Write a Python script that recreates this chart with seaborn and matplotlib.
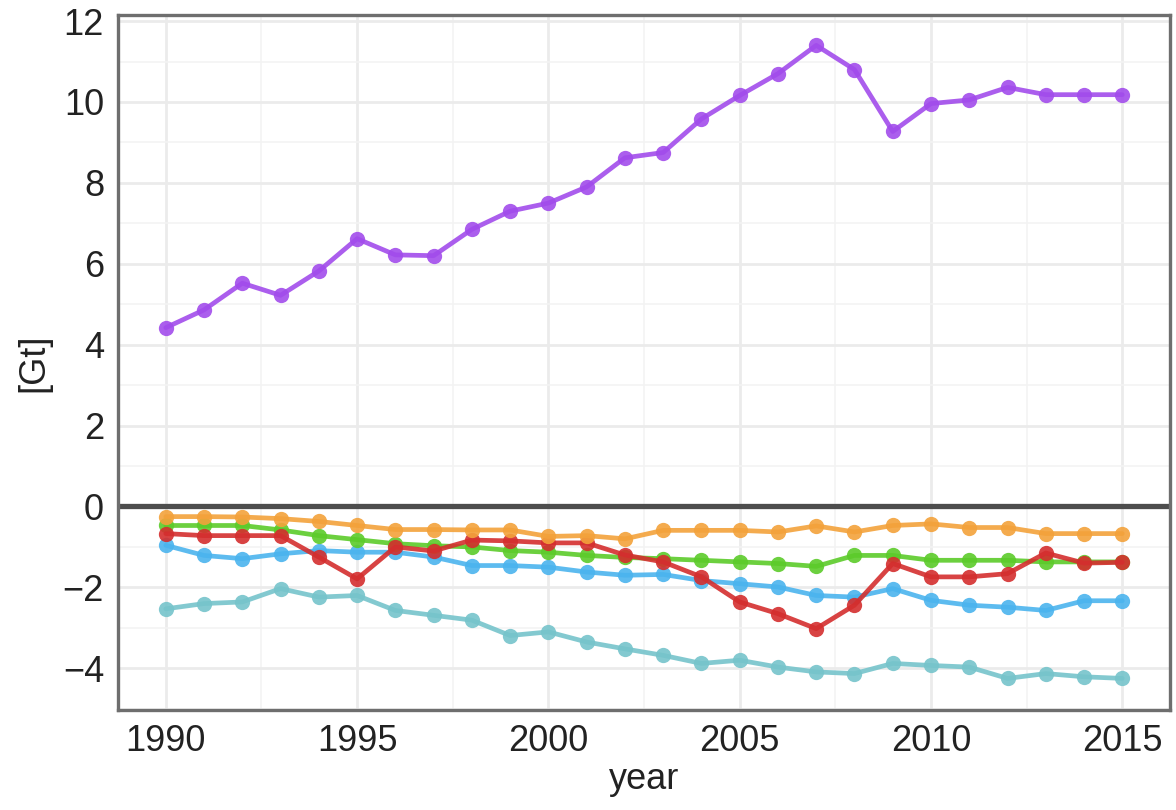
import matplotlib; matplotlib.use('Agg')
import matplotlib.pyplot as plt
from matplotlib.ticker import MultipleLocator
import numpy as np
import pandas as pd
import seaborn as sns

# ── Data ─────────────────────────────────────────────────────────
years = list(range(1990, 2016))

purple = [4.42, 4.86, 5.52, 5.22, 5.82, 6.62, 6.22, 6.2, 6.85, 7.3,
          7.5, 7.9, 8.62, 8.75, 9.58, 10.16, 10.7, 11.4, 10.8, 9.27,
          9.96, 10.05, 10.36, 10.18, 10.18, 10.18]
orange = [-0.25, -0.25, -0.26, -0.3, -0.37, -0.47, -0.57, -0.57, -0.58, -0.58,
          -0.74, -0.72, -0.8, -0.59, -0.59, -0.59, -0.63, -0.48, -0.63, -0.47,
          -0.43, -0.52, -0.52, -0.67, -0.67, -0.67]
green = [-0.47, -0.47, -0.47, -0.58, -0.72, -0.82, -0.92, -0.97, -1.0, -1.09,
         -1.13, -1.21, -1.26, -1.29, -1.33, -1.37, -1.41, -1.48, -1.21, -1.21,
         -1.33, -1.33, -1.33, -1.37, -1.37, -1.37]
red = [-0.67, -0.72, -0.72, -0.72, -1.25, -1.79, -1.0, -1.1, -0.83, -0.85,
       -0.9, -0.9, -1.2, -1.37, -1.74, -2.36, -2.65, -3.02, -2.44, -1.41,
       -1.74, -1.74, -1.66, -1.15, -1.4, -1.38]
blue = [-0.96, -1.21, -1.29, -1.17, -1.09, -1.13, -1.13, -1.25, -1.46, -1.46,
        -1.5, -1.62, -1.7, -1.68, -1.83, -1.91, -1.99, -2.2, -2.24, -2.03,
        -2.32, -2.44, -2.49, -2.57, -2.33, -2.33]
teal = [-2.53, -2.4, -2.36, -2.03, -2.24, -2.2, -2.57, -2.69, -2.81, -3.19,
        -3.1, -3.35, -3.52, -3.68, -3.88, -3.8, -3.97, -4.09, -4.13, -3.88,
        -3.93, -3.97, -4.25, -4.13, -4.21, -4.25]

series = {'s1': purple, 's2': teal, 's3': blue, 's4': green, 's5': red, 's6': orange}
colors = ['#A24CEB', '#76C4CB', '#4BB4EE', '#5CCB2A', '#D42E2E', '#F3A23B']

df = pd.DataFrame([(y, name, v) for name, vals in series.items()
                   for y, v in zip(years, vals)],
                  columns=['year', 'group', 'value'])

# ── Plot ─────────────────────────────────────────────────────────
sns.set_style('white')
plt.rcParams['font.family'] = ['Liberation Sans', 'DejaVu Sans']

fig = plt.figure(figsize=(11.76, 8.10), dpi=100)
ax = fig.add_axes([0.1003, 0.1235, 0.8947, 0.858])

ax.xaxis.set_major_locator(MultipleLocator(5))
ax.xaxis.set_minor_locator(MultipleLocator(2.5))
ax.yaxis.set_major_locator(MultipleLocator(2))
ax.yaxis.set_minor_locator(MultipleLocator(1))
ax.grid(which='major', color='#EBEBEB', linewidth=2.0, zorder=0)
ax.grid(which='minor', color='#F3F3F3', linewidth=1.2, zorder=0)
ax.set_axisbelow(True)

ax.axhline(0, color='#4D4D4D', linewidth=3.8, zorder=1)

sns.lineplot(data=df, x='year', y='value', hue='group', palette=colors,
             linewidth=3.4, marker='o', markersize=11, markeredgewidth=0,
             alpha=0.9, legend=False, ax=ax, zorder=3)

ax.set_xlim(1988.75, 2016.25)
ax.set_ylim(-5.03, 12.15)

for s in ax.spines.values():
    s.set_color('#6E6E6E'); s.set_linewidth(2.4)

ax.tick_params(axis='both', which='major', length=6, width=2, color='#555555',
               labelsize=26, labelcolor='#222222', pad=4)
ax.tick_params(axis='both', which='minor', length=0)
ax.set_yticks(range(-4, 13, 2))
ax.set_yticklabels([f'{v}'.replace('-', '\u2212') for v in range(-4, 13, 2)])
ax.set_xticks(range(1990, 2016, 5))

ax.set_xlabel('year', fontsize=26, color='#222222', labelpad=2)
ax.set_ylabel('[Gt]', fontsize=26, color='#222222', labelpad=8)

plt.savefig('out.png', dpi=100)
